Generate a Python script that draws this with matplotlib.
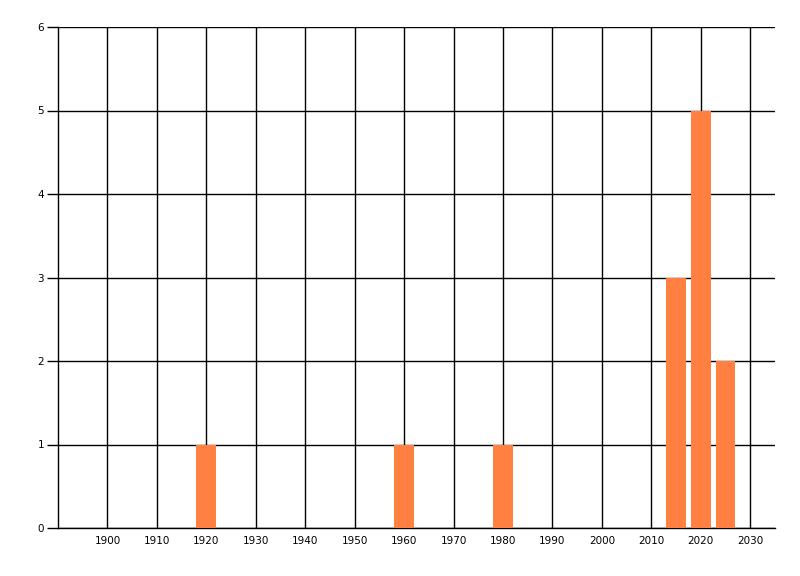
import matplotlib
matplotlib.use('Agg')
import matplotlib.pyplot as plt

# data
years = [1920, 1960, 1980, 2015, 2020, 2025]
counts = [1, 1, 1, 3, 5, 2]
xticks = list(range(1900, 2031, 10))
yticks = list(range(0, 7))

fig = plt.figure(figsize=(8, 5.76), dpi=100)
ax = fig.add_axes([58/800, 1-528/576, (775-58)/800, (528-27)/576])

ax.bar(years, counts, width=4, color='#FF8040', zorder=3)

ax.set_xlim(1890, 2035)
ax.set_ylim(0, 6)
ax.set_xticks(xticks)
ax.set_yticks(yticks)
ax.grid(True, color='black', linewidth=1)
ax.set_axisbelow(True)

for s in ['top', 'right']:
    ax.spines[s].set_visible(False)
ax.spines['left'].set_linewidth(1)
ax.spines['bottom'].set_linewidth(1)
ax.tick_params(axis='x', length=0, pad=6, labelsize=7.5)
ax.tick_params(axis='y', length=8, width=1, pad=2, labelsize=7.5)

plt.savefig('out.png', dpi=100)
